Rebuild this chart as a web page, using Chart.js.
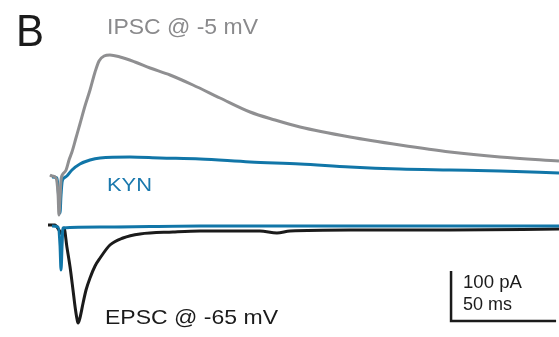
<!DOCTYPE HTML>
<html>
<head>
  <title>IPSC / EPSC traces</title>
  <script src="https://cdn.jsdelivr.net/npm/chart.js"></script>
  <style>
    html, body { margin: 0; padding: 0; background: #fff; }
    .chart-container { position: relative; width: 559px; height: 337px; }
  </style>
</head>
<body>
  <div class="chart-container">
    <canvas id="traceChart"></canvas>
  </div>
  <script type="text/javascript">

    // time in ms, current in pA
    var ipscTrace = [[-1, 4], [0, 2], [1.9, -2], [2.9, -36], [3.3, -76], [3.8, -46], [4.3, -6], [5.2, 6], [6.7, 14],
                     [8.1, 34], [9.5, 50], [11.4, 78], [13.3, 106], [15.7, 142], [18.1, 174], [20.5, 210],
                     [22.4, 232], [24.8, 242], [27.6, 244], [32.4, 240], [39.5, 230], [46.7, 218], [56.2, 204],
                     [67.1, 184], [80, 158], [94.3, 130], [106.2, 114], [118.1, 100], [141.9, 80], [165.7, 64],
                     [189.5, 50], [213.3, 40], [241.4, 32]];
    var kynUpper  = [[0, 0], [2.4, -2], [3.3, -46], [3.8, -72], [4.3, -36], [4.8, -10], [5.7, -2], [7.1, 2],
                     [9.5, 14], [13.3, 26], [18.1, 34], [22.9, 38], [37.1, 40], [51.4, 38], [70.5, 36],
                     [94.3, 30], [118.1, 26], [141.9, 20], [165.7, 16], [189.5, 14], [213.3, 12], [241.4, 8]];
    var kynLower  = [[0, 2], [2.9, 0], [3.8, -36], [4.3, -86], [4.8, -36], [5.2, -2], [22.9, 0], [70.5, 2],
                     [118.1, 2], [165.7, 2], [241.4, 2]];
    var epscTrace = [[-1.9, 4], [1.4, 4], [3.3, -6], [4.8, -14], [5.7, -2], [7.1, -40], [8.6, -80], [10, -126],
                     [11, -160], [11.9, -184], [12.4, -192], [13.3, -182], [14.8, -152], [16.2, -126], [18.1, -102],
                     [20.5, -78], [22.9, -62], [27.6, -36], [33.8, -22], [41.9, -14], [57.6, -10], [70.5, -8],
                     [99, -8], [107.1, -12], [113.3, -8], [141.9, -6], [189.5, -6], [241.4, -4]];
    var epscOffset = -100;           // pA, vertical shift of the -65 mV pair
    var scaleBarPA = 100;
    var scaleBarMS = 50;
    var scaleBarAt = [190, -288];    // corner of the scale bar (ms, pA)
    var labels = ["B", "IPSC @ -5 mV", "KYN", "EPSC @ -65 mV", "100 pA", "50 ms"];

    var colors = {gray: '#8f8f91', blue: '#1176a8', black: '#1b1b1b'};

    function toPoints(arr, offset)
    {
      return arr.map(function (p) { return {x: p[0], y: p[1] + offset}; });
    }

    var scaleBar = [
      {x: scaleBarAt[0], y: scaleBarAt[1] + scaleBarPA},
      {x: scaleBarAt[0], y: scaleBarAt[1]},
      {x: scaleBarAt[0] + scaleBarMS, y: scaleBarAt[1]}
    ];

    function trace(data, color)
    {
      return {
        data: data,
        borderColor: color,
        borderWidth: 3,
        pointRadius: 0,
        cubicInterpolationMode: 'monotone',
        borderJoinStyle: 'round',
        fill: false
      };
    }

    var textPlugin = {
      id: 'traceLabels',
      afterDraw: function (chart)
      {
        var ctx = chart.ctx;
        // x, baseline, font size, target width, colour
        var place = [
          [16, 46, 45, 28, '#1b1b1b'],
          [107, 34, 22, 151, '#8a8a8c'],
          [107, 191, 19, 45, '#1a78ad'],
          [105, 324, 21, 173, '#1b1b1b'],
          [463, 288, 18, 59, '#1b1b1b'],
          [463, 310, 18, 49, '#1b1b1b']
        ];
        ctx.save();
        ctx.textBaseline = 'alphabetic';
        for (var i = 0; i < labels.length; i++)
        {
          var p = place[i];
          ctx.font = p[2] + 'px "Liberation Sans", Arial, sans-serif';
          ctx.fillStyle = p[4];
          var w = ctx.measureText(labels[i]).width;
          ctx.save();
          ctx.translate(p[0], p[1]);
          ctx.scale(p[3] / w, 1);
          ctx.fillText(labels[i], 0, 0);
          ctx.restore();
        }
        ctx.restore();
      }
    };

    var ctx_trace = document.getElementById('traceChart');
    var traceChart = new Chart(ctx_trace, {
      type: 'line',
      data: {
        datasets: [
          trace(toPoints(ipscTrace, 0), colors.gray),
          trace(toPoints(kynUpper, 0), colors.blue),
          trace(toPoints(kynLower, epscOffset), colors.blue),
          trace(toPoints(epscTrace, epscOffset), colors.black),
          {
            data: scaleBar,
            borderColor: colors.black,
            borderWidth: 2.5,
            pointRadius: 0,
            tension: 0,
            borderCapStyle: 'butt',
            fill: false
          }
        ]
      },
      options: {
        responsive: true,
        maintainAspectRatio: false,
        animation: false,
        layout: { padding: 0 },
        scales: {
          x: { type: 'linear', display: false, min: -24.76, max: 241.4 },
          y: { type: 'linear', display: false, min: -320, max: 354 }
        },
        plugins: {
          legend: { display: false },
          tooltip: { enabled: false }
        },
        clip: false
      },
      plugins: [textPlugin]
    });
  </script>
</body>
</html>
